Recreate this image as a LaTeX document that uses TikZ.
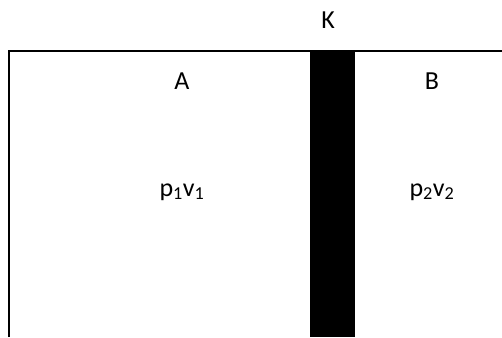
\documentclass[tikz,border=0pt]{standalone}
\usepackage{fontspec}
\setmainfont{Carlito}
\usetikzlibrary{positioning}
\tikzset{lbl/.style={font=\fontsize{26}{30}\selectfont,inner sep=0pt}}

\begin{document}
\begin{tikzpicture}[x=1pt,y=1pt,semithick]
                \useasboundingbox (0, 0) rectangle (502, 337);
                \fill[black](310, 0) rectangle (355, 286);
                \draw[line width=1.3pt](9, 0) -- (9, 286) -- (502, 286);
                \node[lbl](K)at(328, 317){K};
                \node[lbl](A)at(182, 256){A};
                \node[lbl](B)at(432, 256){B};
                \node[lbl](pvA)at(182, 145){p\textsubscript{1}v\textsubscript{1}};
                \node[lbl](pvB)at(432, 145){p\textsubscript{2}v\textsubscript{2}};
            \end{tikzpicture}
\end{document}
